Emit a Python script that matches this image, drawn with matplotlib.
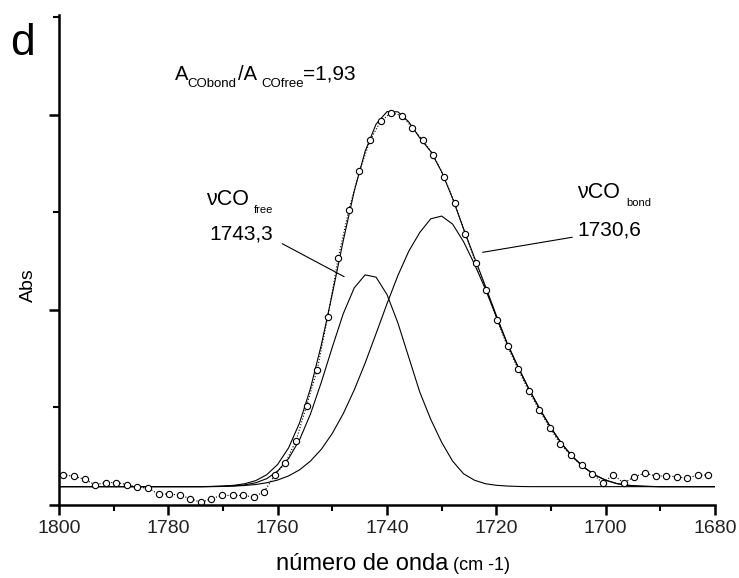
import numpy as np
import matplotlib.pyplot as plt
from matplotlib.ticker import MultipleLocator

# measured spectrum (open circles)
wavenumber = np.linspace(1799.2, 1681.2, 62)
absorbance = [0.156, 0.147, 0.132, 0.103, 0.115, 0.115, 0.105, 0.092, 0.086, 0.056,
              0.056, 0.051, 0.033, 0.013, 0.033, 0.049, 0.049, 0.049, 0.041, 0.069,
              0.154, 0.215, 0.330, 0.509, 0.692, 0.963, 1.267, 1.513, 1.709, 1.868,
              1.966, 2.009, 1.995, 1.932, 1.868, 1.792, 1.681, 1.547, 1.390, 1.240,
              1.099, 0.949, 0.813, 0.696, 0.585, 0.487, 0.395, 0.313, 0.254, 0.203,
              0.161, 0.114, 0.154, 0.113, 0.145, 0.163, 0.149, 0.149, 0.145, 0.137,
              0.154, 0.154]

# fitted components (above the baseline), 1800 -> 1680 every 2 cm-1
fit_wavenumber = np.arange(1800, 1679, -2)
baseline = 0.094
free_band = [0] * 14 + [
    0.000, 0.001, 0.004, 0.009, 0.020, 0.041, 0.080, 0.144, 0.240, 0.372,
    0.536, 0.715, 0.886, 1.018, 1.085, 1.073, 0.984, 0.838, 0.661, 0.484,
    0.345, 0.227, 0.131, 0.066, 0.033, 0.015, 0.007, 0.003, 0.001] + [0] * 18
bond_band = [0] * 14 + [
    0.001, 0.002, 0.003, 0.006, 0.011, 0.020, 0.034, 0.055, 0.086, 0.131,
    0.192, 0.273, 0.374, 0.495, 0.633, 0.784, 0.937, 1.082, 1.207, 1.302,
    1.372, 1.386, 1.345, 1.255, 1.140, 1.012, 0.870, 0.731, 0.611, 0.498,
    0.395, 0.301, 0.218, 0.152, 0.100, 0.060, 0.033, 0.016, 0.007, 0.003,
    0.001] + [0] * 6

W, H = 739, 578


def fx(px):
    return px / W


def fy(py):
    return 1 - py / H


plt.rcParams['font.family'] = ['Liberation Sans', 'DejaVu Sans']

fig = plt.figure(figsize=(W / 100, H / 100), dpi=100)
ax = fig.add_axes([fx(59), fy(505), (715 - 59) / W, (505 - 15) / H])

free_curve = baseline + np.array(free_band)
bond_curve = baseline + np.array(bond_band)
fit_sum = baseline + np.array(free_band) + np.array(bond_band)

ax.plot(fit_wavenumber, free_curve, color='k', lw=0.8)
ax.plot(fit_wavenumber, bond_curve, color='k', lw=0.8)
ax.plot(fit_wavenumber, fit_sum, color='k', lw=0.8)
ax.plot(wavenumber, absorbance, ls=':', color='k', lw=0.8, marker='o', ms=4.5,
        mfc='white', mec='k', mew=0.8)

# leader lines
ax.annotate('', xy=(1747.4, 1.163), xytext=(1759.6, 1.345),
            arrowprops=dict(arrowstyle='-', lw=0.8, color='k'))
ax.annotate('', xy=(1723.0, 1.292), xytext=(1705.6, 1.374),
            arrowprops=dict(arrowstyle='-', lw=0.8, color='k'))

ax.set_xlim(1800, 1680)
ax.set_ylim(0, 2.51)
ax.xaxis.set_major_locator(MultipleLocator(20))
ax.xaxis.set_minor_locator(MultipleLocator(10))
ax.yaxis.set_major_locator(MultipleLocator(1))
ax.yaxis.set_minor_locator(MultipleLocator(0.5))
ax.tick_params(which='major', direction='out', length=7, width=1.8, labelsize=14,
               pad=4, labelcolor='#222222')
ax.tick_params(which='minor', direction='out', length=4, width=1.5)
ax.tick_params(axis='y', labelleft=False)
for side in ['top', 'right']:
    ax.spines[side].set_visible(False)
for side in ['left', 'bottom']:
    ax.spines[side].set_linewidth(1.8)

# texts
fig.text(fx(10), fy(55), 'd', fontsize=32)

fig.text(fx(175), fy(80), 'A', fontsize=14.5)
fig.text(fx(187), fy(87), 'CObond', fontsize=9.5)
fig.text(fx(238), fy(80), '/A', fontsize=14.5)
fig.text(fx(261), fy(87), 'COfree', fontsize=9.5)
fig.text(fx(303), fy(80), '=1,93', fontsize=15)

fig.text(fx(206), fy(205), 'νCO', fontsize=15.5)
fig.text(fx(254), fy(213), 'free', fontsize=8)
fig.text(fx(209), fy(240), '1743,3', fontsize=15)

fig.text(fx(577), fy(198), 'νCO', fontsize=15.5)
fig.text(fx(626), fy(206), 'bond', fontsize=8)
fig.text(fx(577), fy(236), '1730,6', fontsize=15)

fig.text(fx(28), fy(285), 'Abs', rotation=90, ha='center', va='center', fontsize=14)
fig.text(fx(276), fy(570), 'número de onda', fontsize=17)
fig.text(fx(453), fy(570), '(cm -1)', fontsize=13)

fig.savefig('out.png', dpi=100)
